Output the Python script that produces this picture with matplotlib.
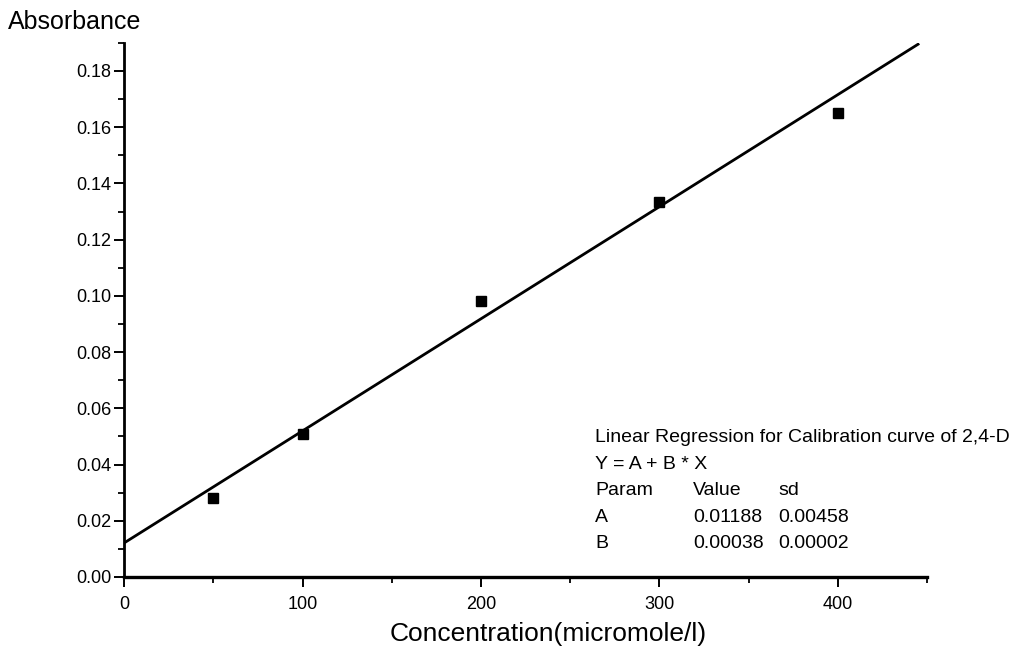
import numpy as np
import matplotlib.pyplot as plt
from matplotlib.ticker import MultipleLocator, FormatStrFormatter

plt.rcParams['font.family'] = ['Liberation Sans', 'DejaVu Sans']

# measured points
conc = [50, 100, 200, 300, 400]
absorb = [0.028, 0.0508, 0.098, 0.1335, 0.165]

# fitted line as drawn (end points)
fit_x = [0, 445]
fit_y = [0.0121, 0.1895]

param_names = ["A", "B"]
param_values = ["0.01188", "0.00038"]
param_sd = ["0.00458", "0.00002"]

fig = plt.figure(figsize=(10.34, 6.53), dpi=100)
ax = fig.add_axes([0.12, 0.1164, 0.7765, 0.818])

ax.plot(fit_x, fit_y, color="black", lw=2)
ax.plot(conc, absorb, "s", color="black", markersize=7.5)

ax.set_xlim(0, 450)
ax.set_ylim(0, 0.19)
ax.spines["top"].set_visible(False)
ax.spines["right"].set_visible(False)
ax.spines["left"].set_linewidth(2)
ax.spines["bottom"].set_linewidth(2.4)

ax.xaxis.set_major_locator(MultipleLocator(100))
ax.xaxis.set_minor_locator(MultipleLocator(50))
ax.yaxis.set_major_locator(MultipleLocator(0.02))
ax.yaxis.set_minor_locator(MultipleLocator(0.01))
ax.yaxis.set_major_formatter(FormatStrFormatter("%.2f"))
ax.tick_params(which="major", direction="out", length=7, width=1.4, labelsize=13, pad=2)
ax.tick_params(which="minor", direction="out", length=4, width=1.3)
ax.tick_params(axis="x", which="major", pad=7)

ax.set_xlabel("Concentration(micromole/l)", fontsize=19)
ax.xaxis.set_label_coords(0.528, -0.085)
fig.text(0.008, 0.967, "Absorbance", fontsize=18, va="center", ha="left")

# regression summary block
fs = 14
tx, ty, dy = 0.5755, 0.3295, 0.0405
fig.text(tx, ty, "Linear Regression for Calibration curve of 2,4-D", fontsize=fs, va="center")
fig.text(tx, ty - dy, "Y = A + B * X", fontsize=fs, va="center")
fig.text(tx, ty - 2 * dy, "Param", fontsize=fs, va="center")
fig.text(0.67, ty - 2 * dy, "Value", fontsize=fs, va="center")
fig.text(0.753, ty - 2 * dy, "sd", fontsize=fs, va="center")
for i in range(len(param_names)):
    yy = ty - (3 + i) * dy
    fig.text(tx, yy, param_names[i], fontsize=fs, va="center")
    fig.text(0.67, yy, param_values[i], fontsize=fs, va="center")
    fig.text(0.753, yy, param_sd[i], fontsize=fs, va="center")

plt.savefig("out.png", dpi=100)
